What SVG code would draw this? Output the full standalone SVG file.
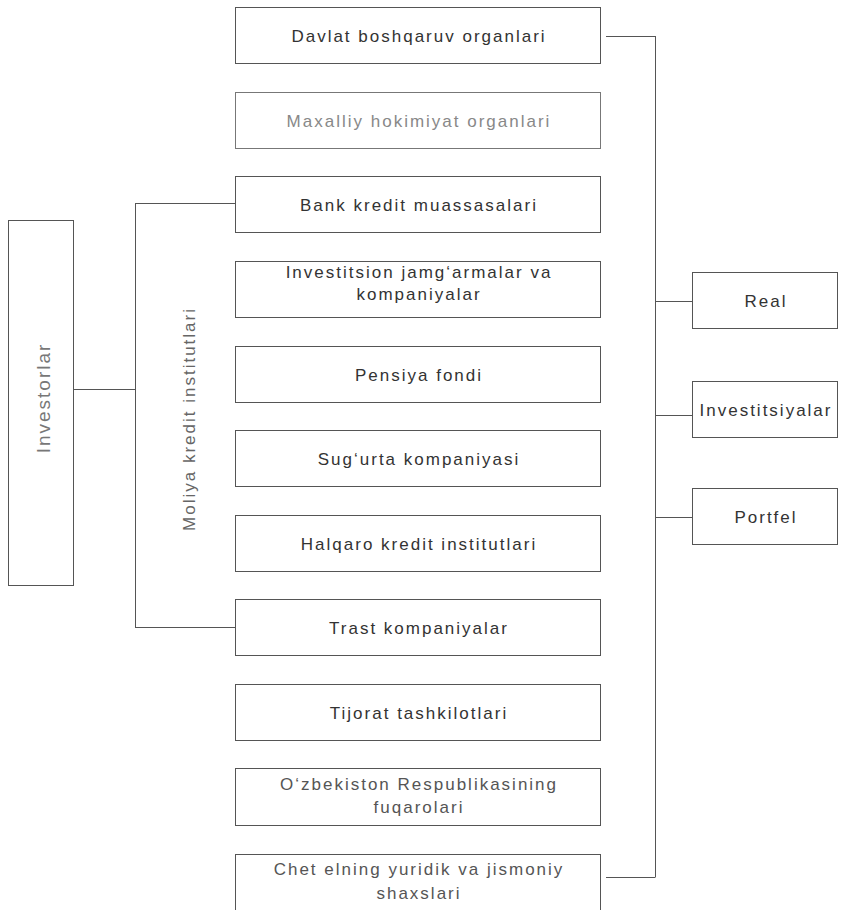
<svg xmlns="http://www.w3.org/2000/svg" width="841" height="910" viewBox="0 0 841 910">
<style>
.box{fill:#fff;stroke:#555;stroke-width:1}
.t{font-family:"Liberation Sans",Arial,sans-serif;font-size:17px;fill:#333;text-anchor:middle;letter-spacing:2px}
.c{fill:none;stroke:#555;stroke-width:1}
</style>
<rect width="841" height="910" fill="#fff"/>
<g id="investorlar">
<rect class="box" x="8.5" y="220.5" width="65" height="365"/>
<text class="t" style="font-size:19px;fill:#777" transform="translate(50,398) rotate(-90)">Investorlar</text>
</g>
<g id="moliya">
<text class="t" style="fill:#666" transform="translate(195,419) rotate(-90)">Moliya kredit institutlari</text>
</g>
<g id="davlat"><rect class="box" x="235.5" y="7.5" width="365" height="56"/><text class="t" x="419" y="42">Davlat boshqaruv organlari</text></g>
<g id="maxalliy"><rect class="box" x="235.5" y="92.5" width="365" height="56" style="stroke:#777"/><text class="t" x="419" y="127" style="fill:#888">Maxalliy hokimiyat organlari</text></g>
<g id="bank"><rect class="box" x="235.5" y="176.5" width="365" height="56"/><text class="t" x="419" y="211">Bank  kredit muassasalari</text></g>
<g id="investitsion"><rect class="box" x="235.5" y="261.5" width="365" height="56"/><text class="t" x="419" y="278">Investitsion jamg‘armalar va</text><text class="t" x="419" y="300">kompaniyalar</text></g>
<g id="pensiya"><rect class="box" x="235.5" y="346.5" width="365" height="56"/><text class="t" x="419" y="381">Pensiya fondi</text></g>
<g id="sugurta"><rect class="box" x="235.5" y="430.5" width="365" height="56"/><text class="t" x="419" y="465">Sug‘urta kompaniyasi</text></g>
<g id="halqaro"><rect class="box" x="235.5" y="515.5" width="365" height="56"/><text class="t" x="419" y="550">Halqaro kredit institutlari</text></g>
<g id="trast"><rect class="box" x="235.5" y="599.5" width="365" height="56"/><text class="t" x="419" y="634">Trast kompaniyalar</text></g>
<g id="tijorat"><rect class="box" x="235.5" y="684.5" width="365" height="56"/><text class="t" x="419" y="719">Tijorat tashkilotlari</text></g>
<g id="ozbekiston"><rect class="box" x="235.5" y="768.5" width="365" height="57"/><text class="t" x="419" y="790" style="fill:#555">O‘zbekiston Respublikasining</text><text class="t" x="419" y="813" style="fill:#555">fuqarolari</text></g>
<g id="chet"><rect class="box" x="235.5" y="854.5" width="365" height="60"/><text class="t" x="419" y="875" style="fill:#555">Chet elning yuridik va jismoniy</text><text class="t" x="419" y="899" style="fill:#555">shaxslari</text></g>
<g id="real"><rect class="box" x="692.5" y="272.5" width="145" height="56"/><text class="t" x="766" y="307">Real</text></g>
<g id="investitsiyalar"><rect class="box" x="692.5" y="381.5" width="145" height="56"/><text class="t" x="766" y="416">Investitsiyalar</text></g>
<g id="portfel"><rect class="box" x="692.5" y="488.5" width="145" height="56"/><text class="t" x="766" y="523">Portfel</text></g>
<g id="connectors">
<path class="c" d="M73 389.5H135.5M135.5 203V627M135 203.5H235M135 627.5H235"/>
<path class="c" d="M606 36.5H655.5M655.5 36V877M606 877.5H655.5M655 301.5H692M655 415.5H692M655 517.5H692"/>
</g>
</svg>
